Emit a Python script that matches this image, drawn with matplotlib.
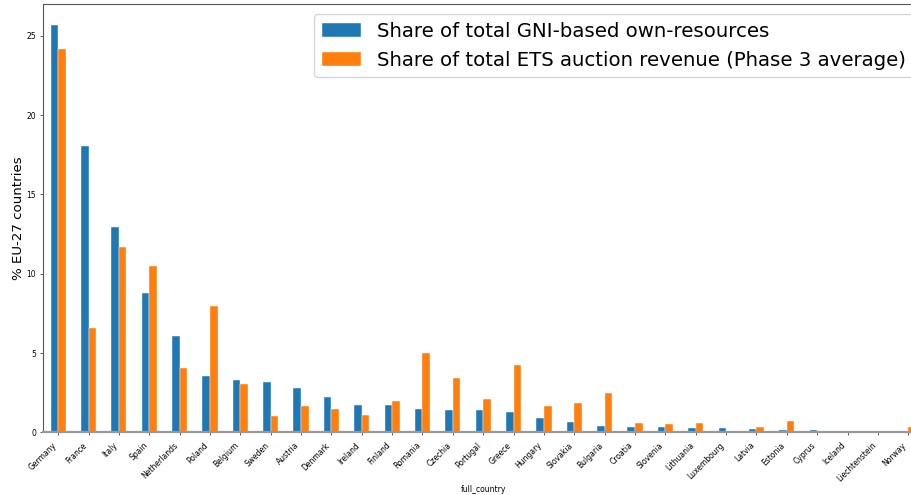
import numpy as np
import pandas as pd
import matplotlib
matplotlib.use('Agg')
import matplotlib.pyplot as plt

################################################################################
# Shares (% of EU-27 total)
################################################################################
countries = ['Germany', 'France', 'Italy', 'Spain', 'Netherlands', 'Poland',
             'Belgium', 'Sweden', 'Austria', 'Denmark', 'Ireland', 'Finland',
             'Romania', 'Czechia', 'Portugal', 'Greece', 'Hungary', 'Slovakia',
             'Bulgaria', 'Croatia', 'Slovenia', 'Lithuania', 'Luxembourg',
             'Latvia', 'Estonia', 'Cyprus', 'Iceland', 'Liechtenstein', 'Norway']
gni_share = [25.7, 18.05, 12.92, 8.78, 6.07, 3.53, 3.28, 3.16, 2.82, 2.25,
             1.74, 1.73, 1.47, 1.43, 1.41, 1.30, 0.91, 0.64, 0.38, 0.34,
             0.32, 0.30, 0.28, 0.20, 0.17, 0.13, 0.0, 0.0, 0.0]
ets_share = [24.18, 6.58, 11.66, 10.5, 4.04, 7.96, 3.05, 1.05, 1.66, 1.47,
             1.10, 2.00, 4.98, 3.45, 2.10, 4.23, 1.66, 1.87, 2.48, 0.57,
             0.53, 0.59, 0.11, 0.32, 0.72, 0.07, 0.03, 0.0, 0.36]

df = pd.DataFrame({'full_country': countries,
                   'Share of total GNI-based own-resources': gni_share,
                   'Share of total ETS auction revenue (Phase 3 average)': ets_share})
df = df.set_index('full_country')

fig = plt.figure(figsize=(9.12, 4.95), dpi=100)
# the original is cropped on the right, so the axes run past the figure edge
ax = fig.add_axes([0.0471, 0.1265, 0.9655, 0.8655])
df.plot.bar(ax=ax, color=['#1f77b4', '#ff7f0e'], edgecolor='white', linewidth=0.3)

ax.set_ylim(0, 27.0)
ax.set_yticks([0, 5, 10, 15, 20, 25])
ax.tick_params(axis='both', labelsize=5.5, length=2.5, width=0.6, color='#444444')
ax.tick_params(axis='y', pad=2.5)
plt.setp(ax.get_xticklabels(), rotation=45, ha='right')
ax.set_ylabel('% EU-27 countries', fontsize=9.6, labelpad=1)
ax.set_xlabel('full_country', fontsize=5.5, labelpad=1)

for s in ['top', 'left']:
    ax.spines[s].set_color('#555555')
    ax.spines[s].set_linewidth(0.8)
ax.spines['bottom'].set_color('#999999')
ax.spines['bottom'].set_linewidth(1.6)

ax.legend(loc='upper right', fontsize=14.2, handlelength=2.0)

fig.savefig('out.png', dpi=100)
